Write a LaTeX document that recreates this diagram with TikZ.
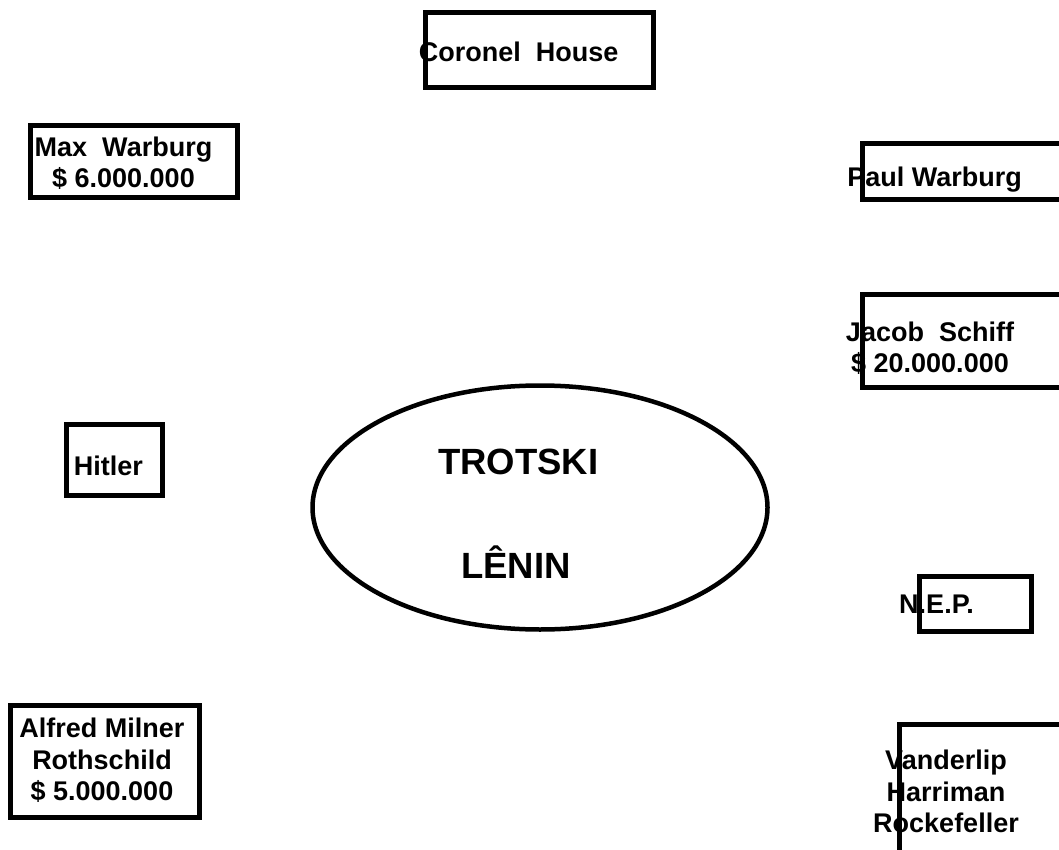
\documentclass[tikz,border=0pt]{standalone}
\usepackage{fontspec}
\setmainfont{Liberation Sans}
\usetikzlibrary{shapes.geometric}
\begin{document}
\begin{tikzpicture}[x=1pt,y=-1pt,
  box/.style={draw,line width=5pt,inner sep=0pt,rectangle},
  lbl/.style={inner sep=0pt,font=\fontsize{27}{31.5}\selectfont\bfseries},
  big/.style={inner sep=0pt,font=\fontsize{36.5}{40}\selectfont\bfseries}]
\useasboundingbox (0,0) rectangle (1059,850);
\fill[white] (0,0) rectangle (1059,850);
\begin{scope}
\clip (0,0) rectangle (1059,850);
% boxes
\node[box,minimum width=227.5pt,minimum height=75pt] (coronelbox) at (539.25,50.5) {};
\node[box,minimum width=207.5pt,minimum height=72pt] (maxbox) at (133.75,161.5) {};
\node[box,minimum width=300pt,minimum height=55.7pt] (paulbox) at (1012,171.85) {};
\node[box,minimum width=300pt,minimum height=93pt] (jacobbox) at (1012,341) {};
\node[box,minimum width=96.5pt,minimum height=71.5pt] (hitlerbox) at (114.25,459.75) {};
\node[box,minimum width=112pt,minimum height=55pt] (nepbox) at (975.5,604) {};
\node[box,minimum width=300pt,minimum height=200pt] (vanderbox) at (1049.5,824.5) {};
\node[box,minimum width=189.5pt,minimum height=111.5pt] (alfredbox) at (104.75,761.25) {};
% ellipse
\node[draw,ellipse,line width=4.5pt,inner sep=0pt,minimum width=455pt,minimum height=244pt] (core) at (540,507.5) {};
% texts
\node[lbl,anchor=base] (coronel) at (518.7,62) {Coronel\ \ House};
\node[lbl,anchor=north,align=center] (max) at (123.5,136.7) {Max\ \ Warburg\\\$ 6.000.000};
\node[lbl,anchor=base] (paul) at (934.7,186.7) {Paul Warburg};
\node[lbl,anchor=north,align=center] (jacob) at (930,321.7) {Jacob\ \ Schiff\\\$ 20.000.000};
\node[lbl,anchor=base] (hitler) at (108.3,475) {Hitler};
\node[big,anchor=base] (trotski) at (518.3,474.3) {TROTSKI};
\node[big,anchor=base] (lenin) at (516,578.3) {LÊNIN};
\node[lbl,anchor=base] (nep) at (936.5,613) {N.E.P.};
\node[lbl,anchor=north,align=center] (vander) at (946,750) {Vanderlip\\Harriman\\Rockefeller};
\node[lbl,anchor=north,align=center] (alfred) at (102,718) {Alfred Milner\\Rothschild\\\$ 5.000.000};
\end{scope}
\end{tikzpicture}
\end{document}
